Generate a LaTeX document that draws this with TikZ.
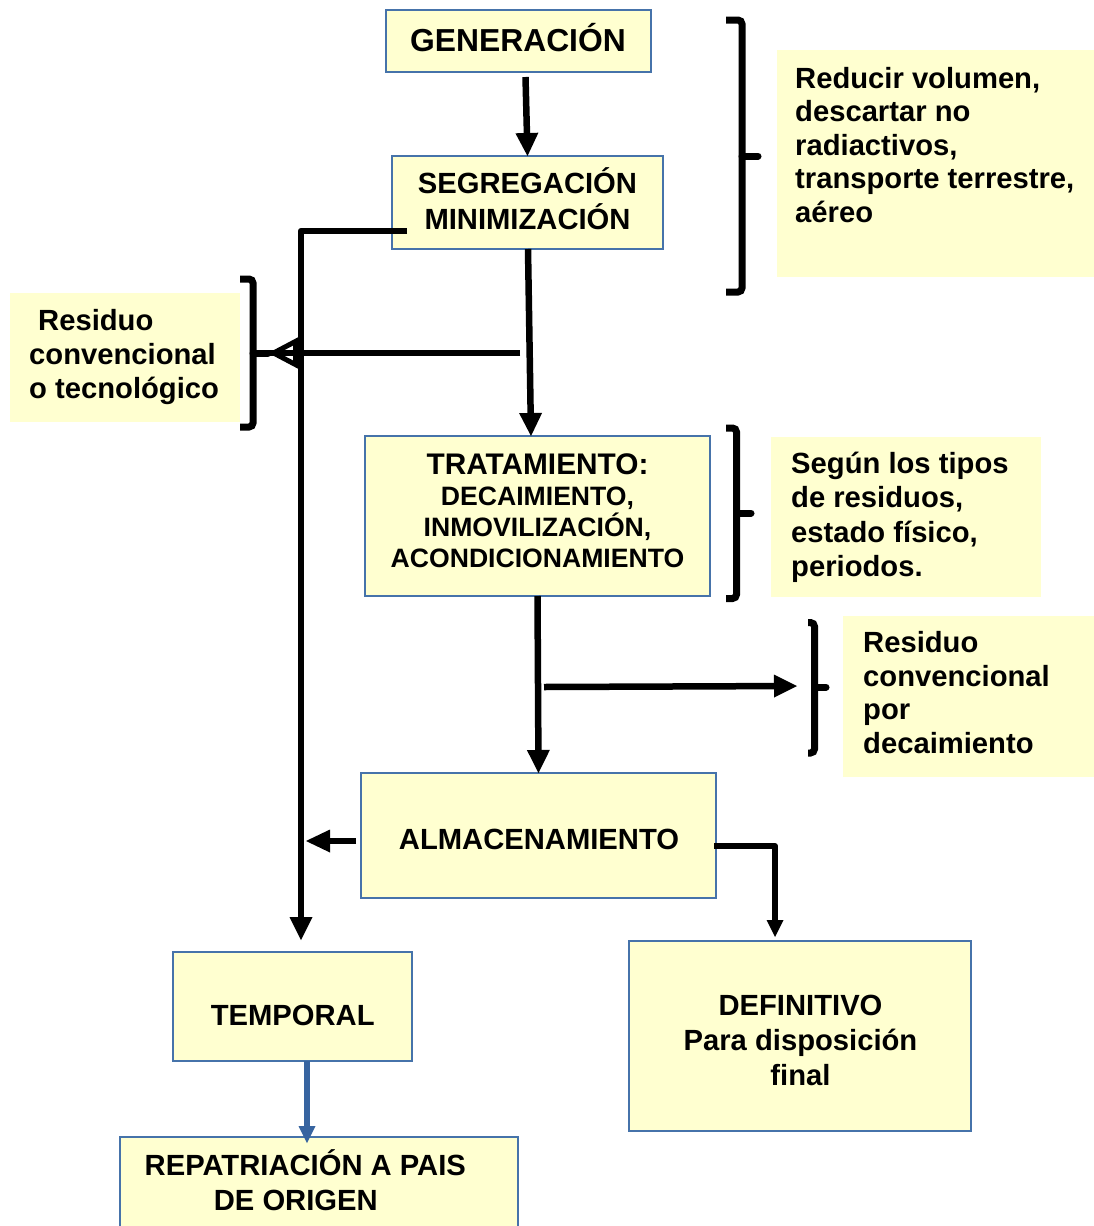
\documentclass[tikz,border=0pt]{standalone}
\usepackage{fontspec}
\setmainfont{Liberation Sans}
\usetikzlibrary{arrows.meta}
\definecolor{boxfill}{RGB}{255,255,208}
\definecolor{boxline}{RGB}{70,115,170}
\definecolor{flowblue}{RGB}{55,100,160}

\begin{document}
\begin{tikzpicture}[x=1pt,y=-1pt,
  stage/.style={draw=boxline, line width=1.8pt, fill=boxfill, inner sep=0pt, outer sep=0pt},
  note/.style={fill=boxfill, inner sep=0pt, outer sep=0pt},
  lbl/.style={font=\bfseries\fontsize{29.2}{35}\selectfont, inner sep=0pt, anchor=north, align=center},
  side/.style={font=\bfseries\fontsize{29.2}{34}\selectfont, inner sep=0pt, anchor=north west, align=left},
  shaft/.style={line width=6.5pt, line join=round},
  flow/.style={shaft, -{Triangle[length=23pt,width=23pt,line width=0pt]}},
  thinflow/.style={line width=6pt, line join=round, -{Triangle[length=17pt,width=17pt,line width=0pt]}},
  blueflow/.style={draw=flowblue, line width=6pt, -{Triangle[length=17pt,width=17pt,line width=0pt]}, flowblue},
  brace/.style={line width=7pt, rounded corners=4pt},
  bracetick/.style={line width=7pt, line cap=round}
]
\useasboundingbox (0,0) rectangle (1094,1226);
\clip (0,0) rectangle (1094,1226);
\fill[white] (0,0) rectangle (1094,1226);

% side notes (filled, no outline)
\node[note, minimum width=317pt, minimum height=227pt] (noteVol) at (935.5,163.5) {};
\node[note, minimum width=230pt, minimum height=129pt] (noteConv) at (125,357.5) {};
\node[note, minimum width=270pt, minimum height=160pt] (noteTipos) at (906,517) {};
\node[note, minimum width=251pt, minimum height=161pt] (noteDecay) at (968.5,696.5) {};

\node[side, font=\bfseries\fontsize{29.2}{33.5}\selectfont] (noteVolT) at (795,59)
  {\rule{0pt}{1em}Reducir volumen,\\descartar no\\radiactivos,\\transporte terrestre,\\aéreo};
\node[side] (noteConvT) at (29,301)
  {\rule{0pt}{1em}\rule{9pt}{0pt}Residuo\\convencional\\o tecnológico};
\node[side, font=\bfseries\fontsize{29.2}{34.3}\selectfont] (noteTiposT) at (791,444)
  {\rule{0pt}{1em}Según los tipos\\de residuos,\\estado físico,\\periodos.};
\node[side, font=\bfseries\fontsize{29.2}{33.7}\selectfont] (noteDecayT) at (863,623)
  {\rule{0pt}{1em}Residuo\\convencional\\por\\decaimiento};

% process boxes
\node[stage, minimum width=265pt, minimum height=62pt] (gen) at (518.5,41) {};
\node[stage, minimum width=271pt, minimum height=93pt] (seg) at (527.5,202.5) {};
\node[stage, minimum width=345pt, minimum height=160pt] (trat) at (537.5,516) {};
\node[stage, minimum width=355pt, minimum height=125pt] (alm) at (538.5,835.5) {};
\node[stage, minimum width=239pt, minimum height=109pt] (temp) at (292.5,1006.5) {};
\node[stage, minimum width=342pt, minimum height=190pt] (def) at (800,1036) {};
\node[stage, minimum width=398pt, minimum height=113pt] (rep) at (319,1193.5) {};

% box labels
\node[lbl, font=\bfseries\fontsize{31.8}{37}\selectfont] (genT) at (518,19) {\rule{0pt}{1em}GENERACIÓN};
\node[lbl, font=\bfseries\fontsize{29.2}{36}\selectfont] (segT) at (527.5,164)
  {\rule{0pt}{1em}SEGREGACIÓN\\MINIMIZACIÓN};
\node[lbl, font=\bfseries\fontsize{26.6}{31}\selectfont] (tratT) at (537.5,444.5)
  {{\fontsize{29.8}{31}\selectfont\rule{0pt}{29.5pt}TRATAMIENTO:}\\DECAIMIENTO,\\INMOVILIZACIÓN,\\ACONDICIONAMIENTO};
\node[lbl] (almT) at (539,820) {\rule{0pt}{1em}ALMACENAMIENTO};
\node[lbl] (tempT) at (292.7,996) {\rule{0pt}{1em}TEMPORAL};
\node[lbl] (defT) at (800.5,986) {\rule{0pt}{1em}DEFINITIVO\\Para disposición\\final};
\node[lbl] (repT) at (305.3,1146) {\rule{0pt}{1em}REPATRIACIÓN A PAIS\\DE ORIGEN\rule{19pt}{0pt}};

% brackets
\coordinate (braceVolTip) at (758,156);
\coordinate (braceConvTip) at (268,353);
\coordinate (braceTiposTip) at (751,513);
\coordinate (braceDecayTip) at (826,687);
\draw[brace] (726,20) -- (742,20) -- (742,292) -- (726,292);
\draw[bracetick] (742,156) -- (braceVolTip);
\draw[brace] (240,279) -- (253,279) -- (253,427) -- (240,427);
\draw[bracetick] (253,353) -- (braceConvTip);
\draw[brace] (726,428) -- (736.5,428) -- (736.5,598.5) -- (726,598.5);
\draw[bracetick] (736.5,513) -- (braceTiposTip);
\draw[brace] (808,622.5) -- (814.5,622.5) -- (814.5,753) -- (808,753);
\draw[bracetick] (814.5,687) -- (braceDecayTip);

% connectors
\draw[flow] ([shift={(7,5)}]gen.south) -- (seg.north);
\draw[flow] ([xshift=0.5pt]seg.south) -- ([xshift=-6.5pt]trat.north);
\draw[flow] ([shift={(15,28.5)}]seg.west) -| ([shift={(8.5,-12)}]temp.north);

\coordinate (splitL) at (520,353);
\draw[shaft] (splitL) -- (braceConvTip);
\draw[shaft, -{Triangle[open,length=30pt,width=30pt,line width=5pt]}] (splitL) -- (braceConvTip);

\draw[flow] (trat.south) -- (alm.north);
\coordinate (splitR) at (544,687);
\coordinate (toDecay) at (797,686);
\draw[flow] (splitR) -- (toDecay);

\coordinate (toTemporal) at (306,841);
\draw[shaft, -{Triangle[length=24pt,width=23pt,line width=0pt]}] ([shift={(-5,5.5)}]alm.west) -- (toTemporal);
\draw[thinflow] ([shift={(-2,10.5)}]alm.east) -| ([shift={(-25,-4)}]def.north);

\draw[blueflow] ([xshift=14.5pt]temp.south) -- ([shift={(-12,6)}]rep.north);
\end{tikzpicture}
\end{document}
